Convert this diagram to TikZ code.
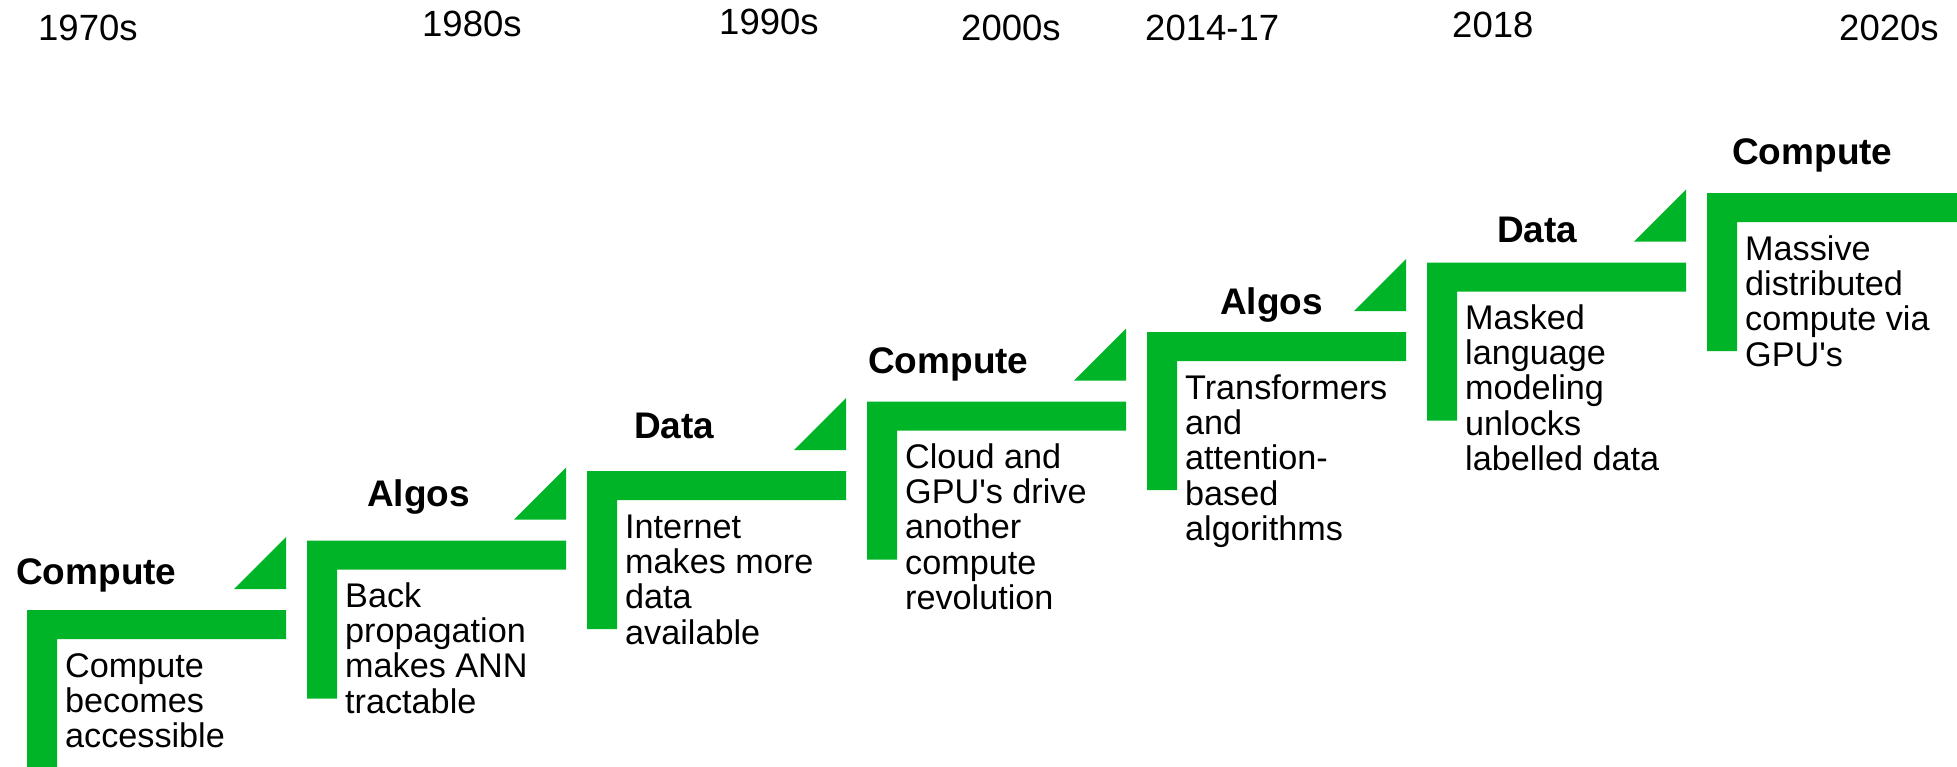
\documentclass[tikz,border=0pt]{standalone}
\usepackage{fontspec}
\setmainfont{Liberation Sans}[Ligatures=TeXOff]
\definecolor{stepgreen}{RGB}{0,180,40}
\newcommand{\lines}[1]{\begin{tabular}[t]{@{}l@{}}#1\end{tabular}}
\begin{document}
\begin{tikzpicture}[x=1pt,y=-1pt,
  bar/.style={fill=stepgreen},
  era/.style={anchor=base west,inner sep=0pt,font=\fontsize{36.5}{40}\selectfont},
  theme/.style={anchor=base west,inner sep=0pt,font=\fontsize{37}{40}\selectfont\bfseries},
  note/.style={anchor=base west,inner sep=0pt,font=\fontsize{34.2}{35.3}\selectfont}]
\useasboundingbox (0,0) rectangle (1957,766);
\clip (0,0) rectangle (1957,766);

% staircase steps with the small corner triangles
\foreach \i in {0,...,5} {
  \pgfmathsetmacro\xl{27+280*\i}
  \pgfmathsetmacro\xr{286+280*\i}
  \pgfmathsetmacro\yt{610-69.5*\i}
  \fill[bar] (\xl,\yt) -- (\xr,\yt) -- (\xr,\yt+29) -- (\xl+30,\yt+29)
    -- (\xl+30,\yt+158) -- (\xl,\yt+158) -- cycle;
  \fill[bar] (\xr-52,\yt-21) -- (\xr,\yt-21) -- (\xr,\yt-73) -- cycle;
}
% last step runs to the right edge
\fill[bar] (1707,193) -- (1957,193) -- (1957,222) -- (1737,222)
  -- (1737,351) -- (1707,351) -- cycle;

% periods
\node[era] (y1) at (38,40)   {1970s};
\node[era] (y2) at (422,36)  {1980s};
\node[era] (y3) at (719,34)  {1990s};
\node[era] (y4) at (961,40)  {2000s};
\node[era] (y5) at (1145,40) {2014-17};
\node[era] (y6) at (1452,37) {2018};
\node[era] (y7) at (1839,40) {2020s};

% driver of each step
\node[theme] (t1) at (16,584)   {Compute};
\node[theme] (t2) at (367,506)  {Algos};
\node[theme] (t3) at (634,438)  {Data};
\node[theme] (t4) at (868,373)  {Compute};
\node[theme] (t5) at (1220,314) {Algos};
\node[theme] (t6) at (1497,242) {Data};
\node[theme] (t7) at (1732,164) {Compute};

% descriptions
\node[note] (d1) at (65,677)   {\lines{Compute\\becomes\\accessible}};
\node[note] (d2) at (345,607)  {\lines{Back\\propagation\\makes ANN\\tractable}};
\node[note] (d3) at (625,538)  {\lines{Internet\\makes more\\data\\available}};
\node[note] (d4) at (905,468)  {\lines{Cloud and\\GPU's drive\\another\\compute\\revolution}};
\node[note] (d5) at (1185,399) {\lines{Transformers\\and\\attention-\\based\\algorithms}};
\node[note] (d6) at (1465,329) {\lines{Masked\\language\\modeling\\unlocks\\labelled data}};
\node[note] (d7) at (1745,260) {\lines{Massive\\distributed\\compute via\\GPU's}};
\end{tikzpicture}
\end{document}
